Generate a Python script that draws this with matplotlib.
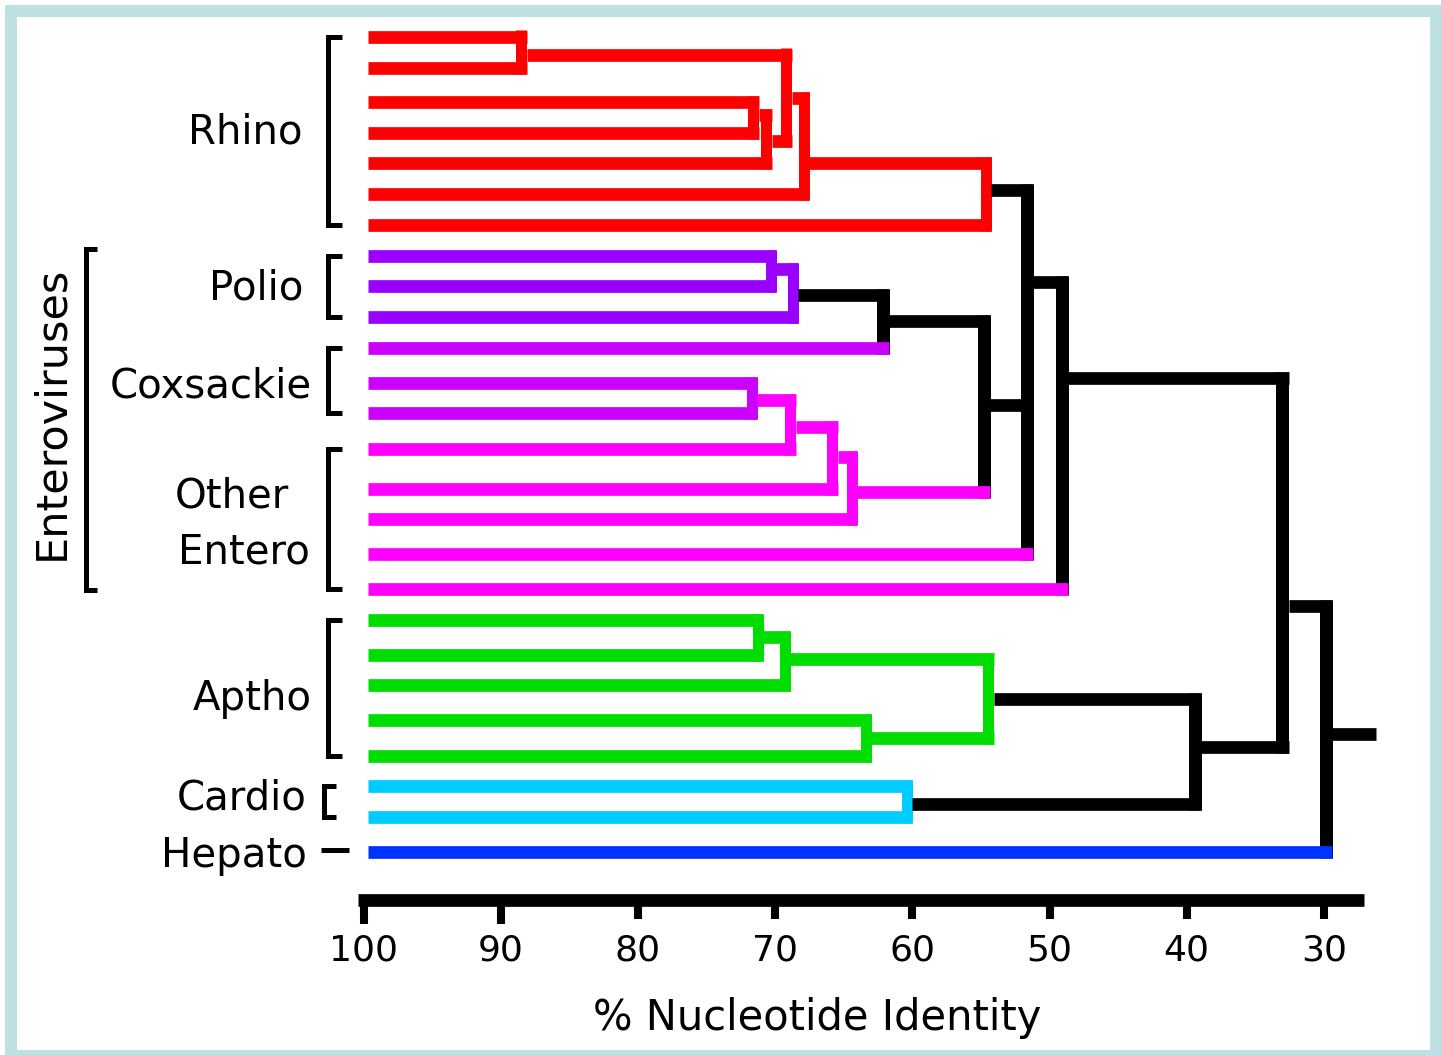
import matplotlib
matplotlib.use("Agg")
import matplotlib.pyplot as plt
from matplotlib.patches import Rectangle

# ---------------- data ----------------
# leaves, top to bottom, and the virus group each belongs to
leaf_groups = (["Rhino"] * 7 + ["Polio"] * 3 + ["Coxsackie"] * 3 +
               ["Entero"] * 5 + ["Aptho"] * 5 + ["Cardio"] * 2 + ["Hepato"])

# internal nodes (ids continue after the 26 leaves): children and % identity of the merge
merge_children = [(0, 1), (2, 3), (27, 4), (26, 28), (29, 5), (30, 6),
                  (7, 8), (32, 9), (33, 10),
                  (11, 12), (35, 13), (36, 14), (37, 15),
                  (34, 38), (31, 39, 16), (40, 17),
                  (18, 19), (42, 20), (21, 22), (43, 44),
                  (23, 24), (45, 46), (41, 47), (48, 25)]
merge_identity = [88.5, 71.6, 70.66, 69.17, 67.9, 54.63,
                  70.3, 68.7, 62.14,
                  71.72, 68.88, 65.85, 64.4,
                  54.81, 51.64, 49.09,
                  71.25, 69.31, 63.41, 54.45,
                  60.39, 39.43, 33.05, 29.88]
leaf_identity = 99.67
root_identity = 26.2

tick_values = [100, 90, 80, 70, 60, 50, 40, 30]
tick_labels = ["100", "90", "80", "70", "60", "50", "40", "30"]
x_label = "% Nucleotide Identity"

# ---------------- layout / style ----------------
W, H = 1441, 1055
PX_PER_UNIT = 13.72
X100_PX = 363.5


def px2x(px):
    return 100 - (px - X100_PX) / PX_PER_UNIT


leaf_rows = [36.5, 67.5, 102, 133, 163, 194, 225, 256, 286, 317, 348, 383, 413,
             448.5, 488.5, 519, 554, 589, 620, 655, 685, 720, 756, 786, 817, 852]
merge_rows = [54.5, 115, 141, 98, 163, 190, 269, 295, 321, 400, 427, 457, 492,
              405, 282, 378, 637, 659, 738, 699, 804, 747, 606, 734]

group_colors = {"Rhino": "#FF0000", "Polio": "#9900FF", "Coxsackie": "#CC00FF",
                "Entero": "#FF00FF", "Aptho": "#00DD00", "Cardio": "#00CCFF",
                "Hepato": "#0033FF", "k": "#000000"}
vert_groups = ["Rhino"] * 6 + ["Polio", "Polio", "k", "Coxsackie", "Entero", "Entero",
               "Entero", "k", "k", "k", "Aptho", "Aptho", "Aptho", "Aptho", "Cardio",
               "k", "k", "k"]
stem_groups = ["Rhino"] * 5 + ["k", "Polio", "k", "k", "Entero", "Entero", "Entero",
               "Entero", "k", "k", "k", "Aptho", "Aptho", "Aptho", "k", "k", "k", "k", "k"]

H_PX = 12.7               # horizontal stroke thickness (px)
VC_PX, VK_PX = 11.0, 13.0  # vertical stroke widths (coloured / black)
PT = 0.72                 # px -> pt at 100 dpi

fig = plt.figure(figsize=(W / 100, H / 100), dpi=100)
bg = fig.add_axes([0, 0, 1, 1])
bg.set_xlim(0, W)
bg.set_ylim(H, 0)
bg.axis("off")

ax = fig.add_axes([0, 0, 1, 1], zorder=2)
ax.patch.set_visible(False)
ax.set_xlim(px2x(0), px2x(W))
ax.set_ylim(H, 0)

n_leaves = len(leaf_groups)
rows = list(leaf_rows) + list(merge_rows)
xs = [leaf_identity] * n_leaves + list(merge_identity)
half_w = [0.0] * n_leaves
for g in vert_groups:
    half_w.append((VK_PX if g == "k" else VC_PX) / 2 / PX_PER_UNIT)
stem_col = [group_colors[g] for g in leaf_groups] + [group_colors[g] for g in stem_groups]


def right_edge(n):
    return xs[n] - half_w[n]


hpad = H_PX / 2
for i, ch in enumerate(merge_children):
    n = n_leaves + i
    ys = [rows[c] for c in ch]
    ax.vlines(xs[n], min(ys) - hpad, max(ys) + hpad,
              colors=group_colors[vert_groups[i]],
              linewidth=(VK_PX if vert_groups[i] == "k" else VC_PX) * PT,
              capstyle="butt", zorder=2)
    for c in ch:
        ax.hlines(rows[c], right_edge(c), right_edge(n), colors=stem_col[c],
                  linewidth=H_PX * PT, capstyle="butt", zorder=3)
root = n_leaves + len(merge_children) - 1
ax.hlines(rows[root], right_edge(root), root_identity, colors="black",
          linewidth=H_PX * PT, capstyle="butt", zorder=3)

# ---------------- axis ----------------
for s in ["left", "right", "top"]:
    ax.spines[s].set_visible(False)
ax.yaxis.set_visible(False)
sp = ax.spines["bottom"]
sp.set_position(("data", 900.3))
sp.set_bounds(px2x(358), px2x(1364))
sp.set_linewidth(H_PX * PT)
sp.set_capstyle("butt")
ax.set_xticks(tick_values[2:], labels=tick_labels[2:])
ax.set_xticks(tick_values[:2], labels=tick_labels[:2], minor=True)
ax.tick_params(axis="x", which="major", direction="out", length=13.7, width=5.8,
               pad=10, labelsize=26, colors="black")
ax.tick_params(axis="x", which="minor", direction="out", length=17.3, width=5.8,
               pad=6.4, labelsize=26, colors="black")
ax.set_xlabel(x_label, fontsize=30)
ax.xaxis.label.set_va("baseline")
ax.xaxis.set_label_coords(817 / W, 1 - 1030 / H)

# ---------------- group labels and brackets ----------------
labels = [("Rhino", 303, 143, "right"), ("Polio", 303, 300, "right"),
          ("Coxsackie", 312, 398, "right"), ("Other", 175, 507, "left"),
          ("Entero", 178, 563, "left"), ("Aptho", 312, 710, "right"),
          ("Cardio", 307, 810, "right"), ("Hepato", 307, 867, "right")]
for t, x, y, ha in labels:
    bg.text(x, y, t, fontsize=29, ha=ha, va="baseline", color="black")
bg.text(63, 413, "Enteroviruses", fontsize=31, rotation=90, rotation_mode="anchor",
        ha="center", va="baseline", color="black")


def bracket(x_stroke, x_end, y0, y1):
    bg.plot([x_end, x_stroke, x_stroke, x_end], [y0, y0, y1, y1], color="black",
            lw=5 * PT, solid_joinstyle="miter", solid_capstyle="butt")


def group_span(names):
    ys = [r for r, g in zip(leaf_rows, leaf_groups) if g in names]
    return min(ys), max(ys)


for g in ["Rhino", "Polio", "Coxsackie", "Entero", "Aptho"]:
    y0, y1 = group_span([g])
    bracket(327.5, 342, y0, y1)
y0, y1 = group_span(["Cardio"])
bracket(323.5, 336, y0, y1)
y0, y1 = group_span(["Polio", "Coxsackie", "Entero"])
bracket(85.5, 97, y0 - 7, y1 + 1)
hy = group_span(["Hepato"])[0]
bg.plot([321, 349], [hy - 2, hy - 2], color="black", lw=5 * PT, solid_capstyle="butt")

# ---------------- frame ----------------
bg.add_patch(Rectangle((11, 11), 1436 - 11, 1056 - 11, fill=False,
                       edgecolor="#BCE0E4", lw=12 * PT, clip_on=False))

fig.savefig("out.png", dpi=100)
